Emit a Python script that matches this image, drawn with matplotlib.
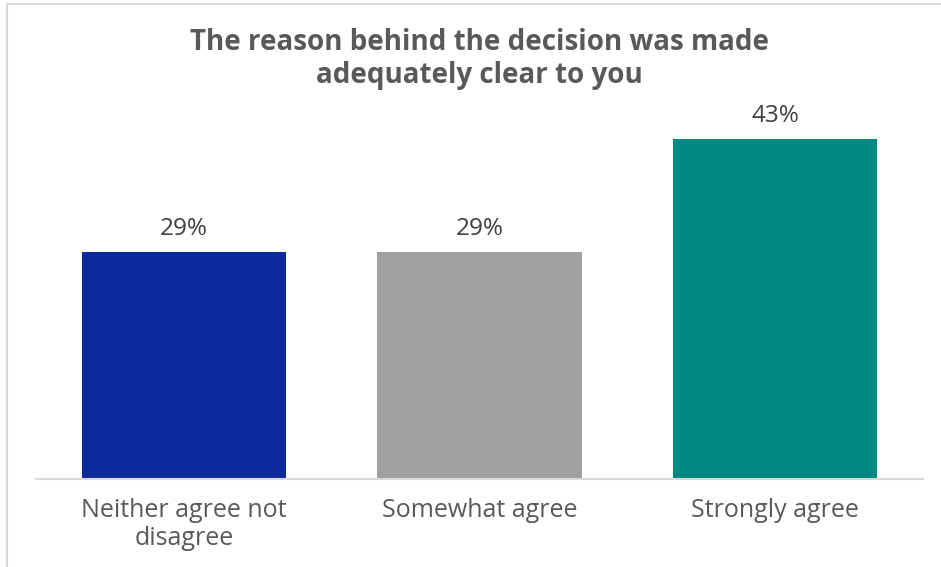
import numpy as np
import matplotlib.pyplot as plt
from matplotlib.patches import Rectangle

categories = ['Neither agree not\ndisagree', 'Somewhat agree', 'Strongly agree']
values = [28.6, 28.6, 42.9]
labels = ['29%', '29%', '43%']
colors = ['#0D2A9C', '#A0A0A0', '#008985']

plt.rcParams['font.family'] = ['Open Sans', 'DejaVu Sans']

fig = plt.figure(figsize=(9.41, 5.67), dpi=100)
ax = fig.add_axes([36 / 941, (567 - 479) / 567, (923 - 36) / 941, 396 / 567])

# chart frame (only left and top visible in the crop)
fig.patches.append(Rectangle((7 / 941, -0.1), 1.1, (563 / 567) + 0.1, transform=fig.transFigure,
                             fill=False, edgecolor='#D9D9D9', linewidth=1.5))

x = np.arange(len(categories))
bars = ax.bar(x, values, width=0.69, color=colors)

for b, lab in zip(bars, labels):
    ax.annotate(lab, (b.get_x() + b.get_width() / 2, b.get_height()),
                xytext=(0, 17), textcoords='offset points',
                ha='center', va='center', fontsize=17.5, color='#404040')

ax.set_xlim(-0.5, 2.5)
ax.set_ylim(0, 50)
ax.set_yticks([])
ax.set_xticks(x)
ax.set_xticklabels(categories, fontsize=18, color='#595959', linespacing=1.15)
ax.tick_params(axis='x', length=0, pad=14)
for s in ['top', 'right', 'left']:
    ax.spines[s].set_visible(False)
ax.spines['bottom'].set_color('#D9D9D9')
ax.spines['bottom'].set_linewidth(1.5)

fig.text(479 / 941, 1 - 59 / 567, 'The reason behind the decision was made\nadequately clear to you',
         ha='center', va='center', fontsize=20, fontweight='bold', color='#595959', linespacing=1.2)

fig.savefig('out.png', dpi=100)
